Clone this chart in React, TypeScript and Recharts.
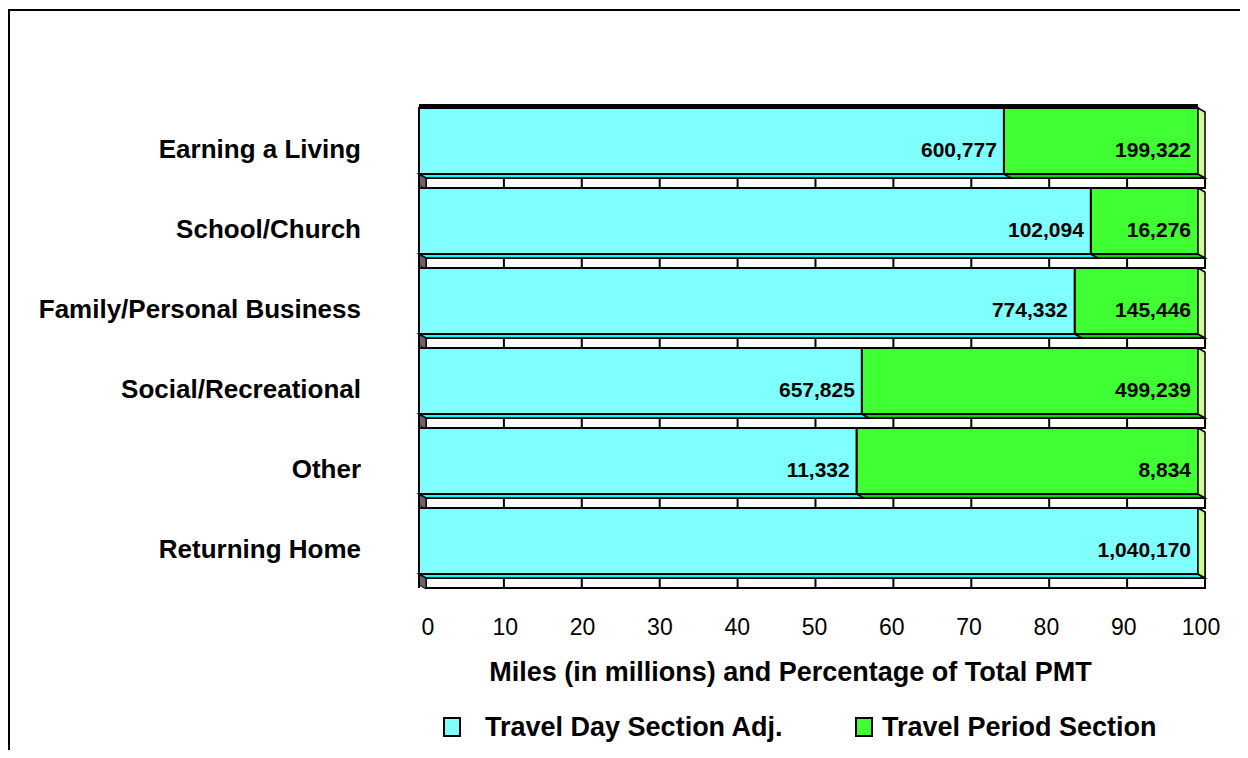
import { BarChart, Bar, XAxis, YAxis, Legend, LabelList } from "recharts";

// person miles of travel by trip purpose (millions)
const purposes = [
  "Earning a Living",
  "School/Church",
  "Family/Personal Business",
  "Social/Recreational",
  "Other",
  "Returning Home",
];
const travelDay = [600777, 102094, 774332, 657825, 11332, 1040170];
const travelPeriod = [199322, 16276, 145446, 499239, 8834, 0];
const pctTicks = [0, 10, 20, 30, 40, 50, 60, 70, 80, 90, 100];
const seriesNames = ["Travel Day Section Adj.", "Travel Period Section"];

const data = purposes.map((name, i) => ({
  name,
  day: travelDay[i],
  period: travelPeriod[i],
}));

const FONT = '"Liberation Sans", Arial, Helvetica, sans-serif';
const CYAN = "#80FFFF";
const CYAN_DARK = "#00FFFF";
const GREEN = "#40FF33";
const GREEN_DARK = "#00D800";
const SIDE = "#CCFF99";
const DX = 7;
const DY = 4;
const GAP = 14;

function makeShape(front: string, under: string, isEnd: boolean) {
  return (props: any) => {
    const { x, y, width, height, payload } = props;
    const showSide = isEnd || payload.period === 0;
    const b = y + height;
    return (
      <g>
        <polygon
          points={`${x},${b} ${x + width},${b} ${x + width + DX},${b + DY} ${x + DX},${b + DY}`}
          fill={under}
          stroke="#000"
          strokeWidth={1.5}
        />
        {width > 0 && (
          <rect x={x} y={y} width={width} height={height} fill={front} stroke="#000" strokeWidth={2} />
        )}
        {showSide && (
          <polygon
            points={`${x + width},${y} ${x + width + DX},${y + DY} ${x + width + DX},${b + DY} ${x + width},${b}`}
            fill={SIDE}
            stroke="#000"
            strokeWidth={1.5}
          />
        )}
      </g>
    );
  };
}

// the floor strip seen between the bars
function Floor(props: any) {
  const { x, y, width, height, index } = props;
  const top = y + height + DY;
  const bottom = y + height + GAP;
  return (
    <g>
      {index === 0 && <rect x={x} y={y - 4} width={width} height={5} fill="#000" />}
      <rect x={x + DX} y={top} width={width} height={bottom - top} fill="#fff" stroke="#000" strokeWidth={2} />
      {pctTicks.slice(1, -1).map((t) => {
        const gx = x + DX + (width * t) / 100;
        return <line key={t} x1={gx} x2={gx} y1={top} y2={bottom} stroke="#000" strokeWidth={2} />;
      })}
      <polygon
        points={`${x},${y + height} ${x + DX},${top} ${x + DX},${bottom + 1} ${x},${bottom - 3}`}
        fill="#666"
        stroke="#000"
        strokeWidth={1}
      />
      <line x1={x} x2={x} y1={y} y2={bottom} stroke="#000" strokeWidth={2} />
    </g>
  );
}

function valueLabel(values: number[]) {
  return (props: any) => {
    const { x, y, width, height, index } = props;
    const v = values[index];
    if (!v) return null;
    return (
      <text
        x={x + width - 7}
        y={y + height / 2 + 8}
        textAnchor="end"
        dominantBaseline="central"
        fontFamily={FONT}
        fontWeight="bold"
        fontSize={21}
        fill="#000"
      >
        {v.toLocaleString("en-US")}
      </text>
    );
  };
}

function PurposeTick({ x, y, payload }: any) {
  return (
    <text
      x={x - 58}
      y={y + 8}
      textAnchor="end"
      dominantBaseline="central"
      fontFamily={FONT}
      fontWeight="bold"
      fontSize={26}
      fill="#000"
    >
      {payload.value}
    </text>
  );
}

function PctTick({ x, y, payload }: any) {
  return (
    <text
      x={x + 9 - payload.value * 6}
      y={y + 46}
      textAnchor="middle"
      dominantBaseline="central"
      fontFamily={FONT}
      fontSize={23}
      fill="#000"
    >
      {Math.round(payload.value * 100)}
    </text>
  );
}

function AxisTitle(props: any) {
  const vb = props.viewBox;
  return (
    <text
      x={vb.x + vb.width / 2 - 18}
      y={vb.y + 91}
      textAnchor="middle"
      dominantBaseline="central"
      fontFamily={FONT}
      fontWeight="bold"
      fontSize={27}
      fill="#000"
    >
      Miles (in millions) and Percentage of Total PMT
    </text>
  );
}

function LegendContent() {
  const colors = [CYAN, GREEN];
  const boxLefts = [433, 845];
  const textLefts = [475, 872];
  return (
    <div style={{ position: "relative", height: 32, fontFamily: FONT, fontWeight: "bold", fontSize: 27 }}>
      {seriesNames.map((n, i) => (
        <div key={n}>
          <span
            style={{
              position: "absolute",
              left: boxLefts[i],
              top: 6,
              width: 14,
              height: 16,
              background: colors[i],
              border: "2px solid #000",
            }}
          />
          <span
            style={{
              position: "absolute",
              left: textLefts[i],
              top: 0,
              lineHeight: "32px",
              color: "#000",
              whiteSpace: "nowrap",
            }}
          >
            {n}
          </span>
        </div>
      ))}
    </div>
  );
}

export default function App() {
  return (
    <div
      style={{
        marginTop: 1,
        borderTop: "2px solid #000",
        borderLeft: "2px solid #000",
        width: 1230,
        height: 739,
      }}
    >
      <BarChart
        width={1230}
        height={739}
        data={data}
        layout="vertical"
        stackOffset="expand"
        barSize={66}
        margin={{ top: 90, right: 42, left: 0, bottom: 0 }}
      >
        <XAxis
          type="number"
          domain={[0, 1]}
          ticks={pctTicks.map((t) => t / 100)}
          axisLine={false}
          tickLine={false}
          tickSize={0}
          tickMargin={0}
          height={137}
          tick={<PctTick />}
          label={{ content: AxisTitle }}
        />
        <YAxis
          type="category"
          dataKey="name"
          width={409}
          axisLine={false}
          tickLine={false}
          tickSize={0}
          tickMargin={0}
          tick={<PurposeTick />}
          interval={0}
        />
        <Legend
          verticalAlign="bottom"
          content={<LegendContent />}
          wrapperStyle={{ left: 0, top: 700, bottom: "auto", width: 1230, height: 32 }}
        />
        <Bar
          dataKey="day"
          stackId="a"
          name={seriesNames[0]}
          fill={CYAN}
          background={Floor}
          shape={makeShape(CYAN, CYAN_DARK, false)}
          isAnimationActive={false}
        >
          <LabelList dataKey="day" content={valueLabel(travelDay)} />
        </Bar>
        <Bar
          dataKey="period"
          stackId="a"
          name={seriesNames[1]}
          fill={GREEN}
          shape={makeShape(GREEN, GREEN_DARK, true)}
          isAnimationActive={false}
        >
          <LabelList dataKey="period" content={valueLabel(travelPeriod)} />
        </Bar>
      </BarChart>
    </div>
  );
}
